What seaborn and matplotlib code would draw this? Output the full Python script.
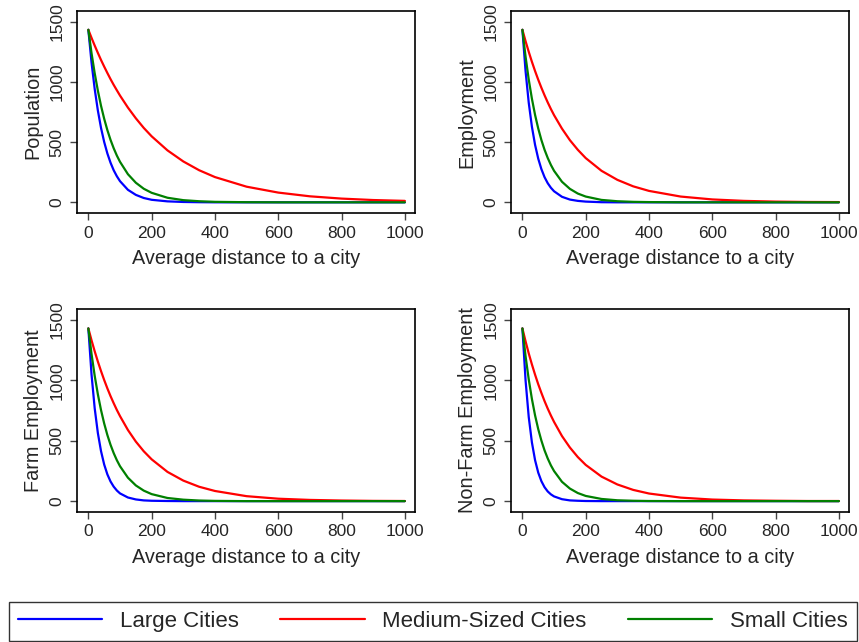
import numpy as np
import pandas as pd
import matplotlib
matplotlib.use("Agg")
import matplotlib.pyplot as plt
import seaborn as sns

sns.set_style("white")
plt.rcParams['font.family'] = ['Liberation Sans', 'DejaVu Sans']

# distance grid
distance = [0, 10, 20, 30, 40, 50, 60, 70, 80, 90, 100, 125, 150, 175, 200,
            250, 300, 350, 400, 500, 600, 700, 800, 900, 1000]

# Population
pop_large = [1435, 1163, 943, 764, 619, 502, 407, 330, 267, 217, 176, 104, 62, 36, 21,
             8, 3, 1, 0, 0, 0, 0, 0, 0, 0]
pop_medium = [1435, 1368, 1304, 1243, 1184, 1129, 1076, 1025, 977, 932, 888, 788, 699, 619, 549,
              432, 340, 267, 210, 130, 81, 50, 31, 19, 12]
pop_small = [1435, 1241, 1074, 929, 803, 695, 601, 520, 450, 389, 337, 234, 163, 113, 79,
             38, 18, 9, 4, 1, 0, 0, 0, 0, 0]

# Employment
emp_large = [1435, 1090, 828, 629, 478, 363, 276, 209, 159, 121, 92, 46, 23, 12, 6,
             1, 0, 0, 0, 0, 0, 0, 0, 0, 0]
emp_medium = [1435, 1340, 1252, 1169, 1092, 1020, 953, 890, 831, 776, 725, 613, 517, 437, 368,
              262, 187, 133, 95, 48, 24, 12, 6, 3, 2]
emp_small = [1435, 1211, 1021, 862, 727, 614, 518, 437, 369, 311, 262, 171, 112, 73, 48,
             20, 9, 4, 2, 0, 0, 0, 0, 0, 0]

# Farm Employment
farm_large = [1430, 1049, 769, 564, 414, 303, 222, 163, 120, 88, 64, 30, 14, 6, 3,
              1, 0, 0, 0, 0, 0, 0, 0, 0, 0]
farm_medium = [1430, 1332, 1241, 1156, 1077, 1003, 934, 870, 811, 755, 704, 589, 493, 413, 346,
               242, 170, 119, 84, 41, 20, 10, 5, 2, 1]
farm_small = [1430, 1219, 1038, 885, 754, 643, 548, 467, 398, 339, 289, 194, 130, 87, 58,
              26, 12, 5, 2, 0, 0, 0, 0, 0, 0]

# Non-Farm Employment
nonfarm_large = [1430, 998, 696, 486, 339, 236, 165, 115, 80, 56, 39, 16, 6, 3, 1,
                 0, 0, 0, 0, 0, 0, 0, 0, 0, 0]
nonfarm_medium = [1430, 1323, 1223, 1132, 1047, 968, 896, 828, 766, 709, 656, 539, 444, 365, 300,
                  203, 138, 93, 63, 29, 13, 6, 3, 1, 1]
nonfarm_small = [1430, 1200, 1008, 846, 710, 596, 501, 420, 353, 296, 249, 160, 104, 67, 43,
                 18, 7, 3, 1, 0, 0, 0, 0, 0, 0]

city_types = ["Large Cities", "Medium-Sized Cities", "Small Cities"]
colors = {"Large Cities": "#0000ff", "Medium-Sized Cities": "#ff0000", "Small Cities": "#008000"}

panels = [
    ("Population", [pop_large, pop_medium, pop_small]),
    ("Employment", [emp_large, emp_medium, emp_small]),
    ("Farm Employment", [farm_large, farm_medium, farm_small]),
    ("Non-Farm Employment", [nonfarm_large, nonfarm_medium, nonfarm_small]),
]

fig = plt.figure(figsize=(8.59, 6.42), dpi=100)
# axes boxes (left, bottom, width, height) in figure fraction
boxes = [
    (0.0896, 0.668, 0.3935, 0.3146),
    (0.5949, 0.668, 0.3935, 0.3146),
    (0.0896, 0.2025, 0.3935, 0.316),
    (0.5949, 0.2025, 0.3935, 0.316),
]

for (label, series), box in zip(panels, boxes):
    ax = fig.add_axes(box)
    rows = []
    for name, vals in zip(city_types, series):
        for d, v in zip(distance, vals):
            rows.append({"distance": d, "value": v, "city": name})
    df = pd.DataFrame(rows)
    sns.lineplot(data=df, x="distance", y="value", hue="city", hue_order=city_types,
                 palette=colors, linewidth=1.6, ax=ax, legend=False)
    ax.set_xlim(-36, 1032)
    ax.set_ylim(-90, 1590)
    ax.set_xticks([0, 200, 400, 600, 800, 1000])
    ax.set_yticks([0, 500, 1000, 1500])
    ax.set_xlabel("Average distance to a city", fontsize=14.3, labelpad=6)
    ax.set_ylabel(label, fontsize=14.3, labelpad=5)
    ax.tick_params(axis="both", direction="out", length=5, width=1, color="#444444",
                   labelsize=12.5, pad=4, bottom=True, left=True)
    for lab in ax.get_yticklabels():
        lab.set_rotation(90)
        lab.set_va("center")
    for sp in ax.spines.values():
        sp.set_color("black")
        sp.set_linewidth(1.2)

handles = [plt.Line2D([], [], color=colors[c], linewidth=1.6) for c in city_types]
leg = fig.legend(handles, city_types, loc="lower left", ncol=3, mode="expand",
                 bbox_to_anchor=(0.0105, 0.002, 0.987, 0.063), fontsize=16,
                 handlelength=3.8, frameon=True, fancybox=False, borderaxespad=0)
leg.get_frame().set_edgecolor("black")
leg.get_frame().set_linewidth(1.0)

fig.savefig("out.png", dpi=100)
